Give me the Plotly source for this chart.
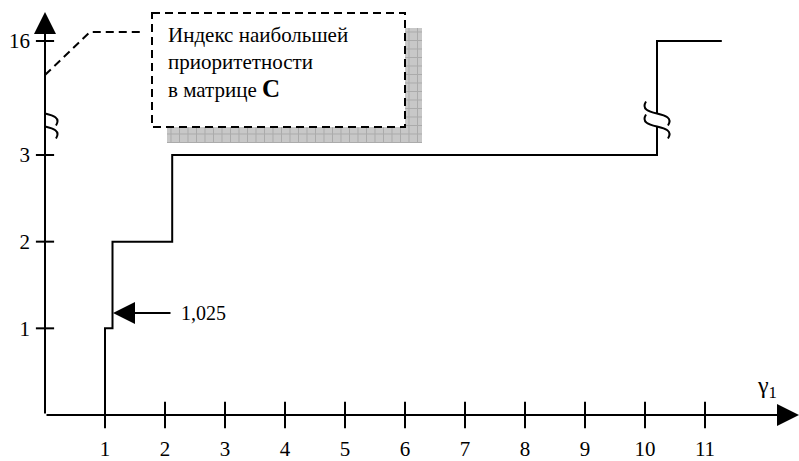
import plotly.graph_objects as go

# ---------------- data ----------------
jump_x = [1.0, 1.125, 2.12, 10.2]      # gamma_1 values where the index jumps
levels = [1, 2, 3, 16]                 # index of highest priority after each jump
end_x = 11.28                          # last drawn gamma_1
x_ticks = [1, 2, 3, 4, 5, 6, 7, 8, 9, 10, 11]
y_ticks = [1, 2, 3, 16]
marked_value = "1,025"
box_lines = ["Индекс наибольшей", "приоритетности",
             "в матрице <b><span style='font-size:25px'>C</span></b>"]
x_title = "γ<sub>1</sub>"

# ---------------- layout constants ----------------
W, H = 799, 461
ML, MB = 45, 46
PX_X = 60.0          # pixels per unit of gamma_1
PX_Y = 86.67         # pixels per index unit (below the break)
BREAK_POS = 4.315    # display position of the level above the axis break
FONT = "Liberation Serif"
FS = 20
AS = 2.2             # arrow size


def ypos(v):
    return v if v <= 3 else BREAK_POS


def px2x(px):
    return (px - ML) / PX_X


def px2y(py):
    return (H - MB - py) / PX_Y


def dx(p):
    return p / PX_X


def dy(p):
    return -p / PX_Y


xs = [jump_x[0]] + jump_x + [end_x]
ys = [ypos(v) for v in [0] + levels + [levels[-1]]]

fig = go.Figure()
fig.add_trace(go.Scatter(x=xs, y=ys, mode="lines", line=dict(color="black", width=2, shape="hv"),
                         cliponaxis=False, hoverinfo="skip"))
# tick marks crossing the axes
fig.add_trace(go.Scatter(x=x_ticks, y=[0] * len(x_ticks), mode="markers", cliponaxis=False,
                         marker=dict(symbol="line-ns", size=19, line=dict(color="black", width=2)),
                         hoverinfo="skip"))
fig.add_trace(go.Scatter(x=[0] * len(y_ticks), y=[ypos(v) for v in y_ticks], mode="markers",
                         cliponaxis=False,
                         marker=dict(symbol="line-ew", size=13, line=dict(color="black", width=2)),
                         hoverinfo="skip"))

shapes = []
annotations = []

# axis arrows
annotations.append(dict(x=px2x(799), y=0, ax=0, ay=0, axref="x", ayref="y", xref="x", yref="y",
                        text="", showarrow=True, arrowhead=2, arrowsize=AS, arrowwidth=2,
                        arrowcolor="black"))
annotations.append(dict(x=0, y=px2y(12), ax=0, ay=0, axref="x", ayref="y", xref="x", yref="y",
                        text="", showarrow=True, arrowhead=2, arrowsize=AS, arrowwidth=2,
                        arrowcolor="black"))

# axis break symbols
def break_symbol(cx, cy):
    def curve(off):
        pts = [(-11, -12 + off), (-21, 4 + off), (21, -4 + off), (11, 12 + off)]
        return [(cx + dx(a), cy + dy(b)) for a, b in pts]
    c1 = curve(-6.5)
    c2 = curve(6.5)
    fmt = lambda p: f"{p[0]},{p[1]}"
    mask = (f"M {fmt(c1[0])} C {fmt(c1[1])} {fmt(c1[2])} {fmt(c1[3])} "
            f"L {fmt(c2[3])} C {fmt(c2[2])} {fmt(c2[1])} {fmt(c2[0])} Z")
    shapes.append(dict(type="path", path=mask, fillcolor="white", line=dict(width=0),
                       xref="x", yref="y"))
    for c in (c1, c2):
        shapes.append(dict(type="path", path=f"M {fmt(c[0])} C {fmt(c[1])} {fmt(c[2])} {fmt(c[3])}",
                           line=dict(color="black", width=2), xref="x", yref="y"))


break_symbol(0, px2y(120))
break_symbol(jump_x[-1], px2y(120))

# dashed leader line
shapes.append(dict(type="path", xref="x", yref="y",
                   path=f"M {px2x(45)},{px2y(75)} L {px2x(90)},{px2y(32)} L {px2x(140)},{px2y(32)}",
                   line=dict(color="black", width=2, dash="8px,5px")))

# shadow with grid texture
sx0, sy0, sx1, sy1 = 167, 28, 422, 143
shapes.append(dict(type="rect", xref="x", yref="y", x0=px2x(sx0), x1=px2x(sx1), y0=px2y(sy0),
                   y1=px2y(sy1), fillcolor="#c8c8c8", line=dict(width=0)))
g = sx0 + 4
while g < sx1:
    shapes.append(dict(type="line", xref="x", yref="y", x0=px2x(g), x1=px2x(g), y0=px2y(sy0),
                       y1=px2y(sy1), line=dict(color="#ababab", width=1)))
    g += 8.5
g = sy0 + 4
while g < sy1:
    shapes.append(dict(type="line", xref="x", yref="y", x0=px2x(sx0), x1=px2x(sx1), y0=px2y(g),
                       y1=px2y(g), line=dict(color="#ababab", width=1)))
    g += 8.5

# dashed box
shapes.append(dict(type="rect", xref="x", yref="y", x0=px2x(152), x1=px2x(405), y0=px2y(13),
                   y1=px2y(127), fillcolor="white",
                   line=dict(color="black", width=2, dash="8px,5px")))

for i, t in enumerate(box_lines):
    annotations.append(dict(x=px2x(166), y=px2y(35 + 26.5 * i), xref="x", yref="y", text=t,
                            showarrow=False, xanchor="left", yanchor="middle",
                            font=dict(family=FONT, size=21, color="black")))

# marker for the first jump value
annotations.append(dict(x=px2x(113), y=px2y(313), ax=px2x(172), ay=px2y(313), axref="x", ayref="y",
                        xref="x", yref="y", text="", showarrow=True, arrowhead=2, arrowsize=AS,
                        arrowwidth=2, arrowcolor="black"))
annotations.append(dict(x=px2x(179), y=px2y(313), xref="x", yref="y", text=marked_value,
                        showarrow=False, xanchor="left", yanchor="middle",
                        font=dict(family=FONT, size=FS, color="black")))

# axis title
annotations.append(dict(x=px2x(767), y=px2y(387), xref="x", yref="y", text=x_title,
                        showarrow=False, xanchor="center", yanchor="middle",
                        font=dict(family=FONT, size=24, color="black")))

fig.update_layout(
    width=W, height=H, margin=dict(l=ML, r=0, t=0, b=MB, autoexpand=False),
    paper_bgcolor="white", plot_bgcolor="white", showlegend=False,
    shapes=shapes, annotations=annotations,
    xaxis=dict(range=[0, (W - ML) / PX_X], tickvals=x_ticks, ticktext=[str(v) for v in x_ticks],
               showgrid=False, zeroline=False, showline=False, ticks="", automargin=False,
               ticklabelstandoff=19, tickfont=dict(family=FONT, size=21, color="black")),
    yaxis=dict(range=[0, (H - MB) / PX_Y], tickvals=[ypos(v) for v in y_ticks],
               ticktext=[str(v) for v in y_ticks], showgrid=False, zeroline=False,
               showline=False, ticks="", automargin=False, ticklabelstandoff=14,
               tickfont=dict(family=FONT, size=21, color="black")),
)

fig.write_html("out.html", config={"displayModeBar": False},
               post_script="document.body.style.margin='0';document.body.style.overflow='hidden';")
